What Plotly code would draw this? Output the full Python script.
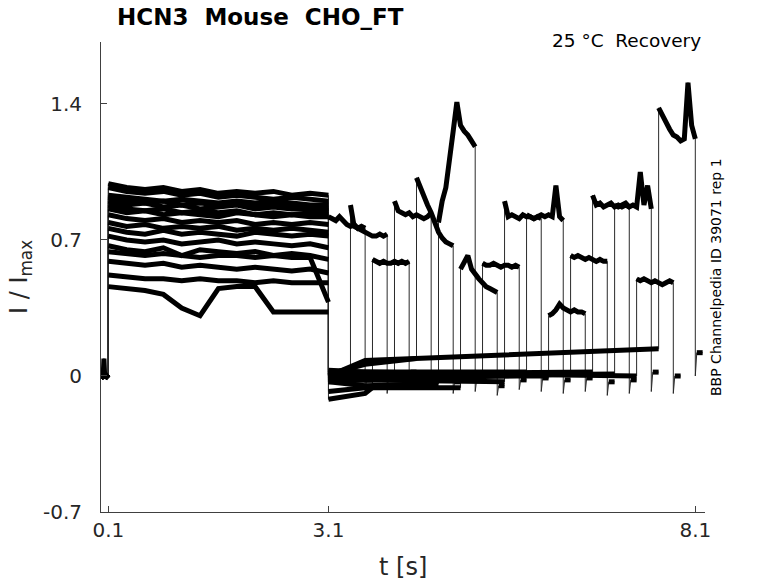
import plotly.graph_objects as go

# ---------------- data ----------------
N_SWEEPS = 16

# holding period before the first pulse
PRE_T = [0.0, 0.03, 0.04, 0.05, 0.1]
PRE_I_BASE = [-0.01, 0.0, -0.01, 0.01, -0.01]
PRE_I_SPIKE = [-0.01, 0.0, 0.09, 0.0, -0.01]
SPIKE_SWEEP = 0

# first (conditioning) pulse, 0.1 s -> 3.1 s
P1_T = [0.1, 0.35, 0.6, 0.85, 1.1, 1.35, 1.6, 1.85, 2.1, 2.35, 2.6, 2.85, 3.1]
P1_I = [
    [0.86, 0.84, 0.85, 0.83, 0.84, 0.83, 0.82, 0.84, 0.83, 0.82, 0.83, 0.82, 0.82],
    [0.90, 0.88, 0.89, 0.87, 0.88, 0.86, 0.87, 0.88, 0.86, 0.87, 0.86, 0.86, 0.85],
    [0.64, 0.63, 0.62, 0.63, 0.62, 0.61, 0.62, 0.62, 0.61, 0.62, 0.61, 0.61, 0.38],
    [0.76, 0.74, 0.73, 0.75, 0.73, 0.74, 0.73, 0.72, 0.74, 0.73, 0.72, 0.73, 0.72],
    [0.97, 0.95, 0.94, 0.95, 0.93, 0.94, 0.92, 0.93, 0.92, 0.91, 0.92, 0.91, 0.90],
    [0.93, 0.92, 0.91, 0.90, 0.91, 0.90, 0.89, 0.90, 0.89, 0.90, 0.89, 0.88, 0.88],
    [0.46, 0.45, 0.44, 0.42, 0.35, 0.31, 0.45, 0.46, 0.46, 0.33, 0.33, 0.33, 0.33],
    [0.52, 0.51, 0.50, 0.50, 0.49, 0.50, 0.49, 0.49, 0.48, 0.49, 0.48, 0.48, 0.48],
    [0.83, 0.81, 0.80, 0.81, 0.79, 0.80, 0.79, 0.80, 0.78, 0.79, 0.78, 0.79, 0.78],
    [0.79, 0.77, 0.78, 0.76, 0.77, 0.76, 0.77, 0.75, 0.76, 0.75, 0.76, 0.75, 0.74],
    [0.59, 0.58, 0.57, 0.58, 0.56, 0.57, 0.56, 0.55, 0.56, 0.55, 0.54, 0.55, 0.53],
    [0.72, 0.70, 0.69, 0.70, 0.68, 0.69, 0.70, 0.68, 0.69, 0.68, 0.67, 0.68, 0.66],
    [0.92, 0.90, 0.89, 0.90, 0.88, 0.89, 0.88, 0.89, 0.87, 0.88, 0.87, 0.86, 0.86],
    [0.88, 0.86, 0.85, 0.86, 0.84, 0.85, 0.84, 0.85, 0.83, 0.84, 0.83, 0.84, 0.83],
    [0.67, 0.65, 0.64, 0.66, 0.62, 0.65, 0.64, 0.63, 0.64, 0.62, 0.63, 0.62, 0.60],
    [0.99, 0.97, 0.96, 0.97, 0.95, 0.96, 0.94, 0.95, 0.94, 0.95, 0.93, 0.94, 0.93],
]

# recovery interval (between pulses)
IV_T_MID = 3.6
IV_START = [None, 0.00, -0.12, 0.02, 0.01, -0.03, -0.08, 0.01, -0.01, 0.03, 0.00, -0.03, 0.01, -0.02, 0.02, 0.00]
IV_MID = [None, 0.01, -0.09, 0.01, 0.06, -0.05, -0.06, 0.00, -0.02, 0.02, 0.00, -0.02, 0.01, 0.00, 0.02, 0.08]
IV_END = [None, 0.01, -0.06, 0.00, 0.09, -0.04, -0.06, -0.02, -0.03, 0.02, 0.00, 0.01, 0.02, 0.01, 0.00, 0.14]

# second (test) pulse
P2_START = [3.1, 3.4, 3.7, 4.0, 4.3, 4.6, 4.9, 5.2, 5.5, 5.8, 6.1, 6.4, 6.7, 7.0, 7.3, 7.6]
P2_DT = [0.0, 0.05, 0.1, 0.15, 0.2, 0.25, 0.3, 0.35, 0.4, 0.45, 0.5]
P2_I = [
    [0.82, 0.81, 0.80, 0.82, 0.80, 0.78, 0.77, 0.78, 0.76, 0.77, 0.76],
    [0.88, 0.77, 0.76, 0.75, 0.74, 0.73, 0.72, 0.72, 0.73, 0.72, 0.73],
    [0.60, 0.59, 0.58, 0.59, 0.58, 0.58, 0.59, 0.58, 0.59, 0.58, 0.59],
    [0.90, 0.85, 0.84, 0.83, 0.84, 0.82, 0.83, 0.82, 0.81, 0.82, 0.84],
    [1.02, 0.97, 0.92, 0.88, 0.84, 0.78, 0.74, 0.71, 0.69, 0.68, 0.67],
    [0.79, 0.90, 0.97, 1.10, 1.26, 1.41, 1.29, 1.26, 1.24, 1.21, 1.18],
    [0.55, 0.58, 0.62, 0.55, 0.52, 0.50, 0.48, 0.46, 0.45, 0.44, 0.43],
    [0.58, 0.57, 0.57, 0.58, 0.57, 0.56, 0.57, 0.57, 0.56, 0.57, 0.56],
    [0.90, 0.82, 0.83, 0.82, 0.81, 0.83, 0.82, 0.82, 0.81, 0.82, 0.81],
    [0.83, 0.82, 0.81, 0.82, 0.83, 0.82, 0.83, 0.82, 0.98, 0.82, 0.80],
    [0.31, 0.32, 0.34, 0.37, 0.35, 0.34, 0.33, 0.34, 0.33, 0.33, 0.32],
    [0.62, 0.61, 0.62, 0.61, 0.60, 0.61, 0.60, 0.59, 0.60, 0.59, 0.59],
    [0.93, 0.88, 0.89, 0.87, 0.88, 0.89, 0.87, 0.88, 0.87, 0.88, 0.87],
    [0.88, 0.87, 0.88, 0.89, 0.87, 0.88, 0.87, 1.05, 0.88, 0.98, 0.86],
    [0.50, 0.49, 0.50, 0.49, 0.48, 0.49, 0.48, 0.47, 0.48, 0.49, 0.48],
    [1.38, 1.34, 1.31, 1.27, 1.24, 1.23, 1.21, 1.22, 1.51, 1.29, 1.22],
]

# tail after the test pulse
TAIL_DT = [0.02, 0.1]
TAIL_LOW = [-0.08, -0.09, -0.06, -0.07, -0.09, -0.08, -0.10, -0.07, -0.08, -0.09, -0.08, -0.10, -0.09, -0.08, -0.09, 0.0]
TAIL_I = [-0.02, 0.01, 0.02, -0.01, -0.03, -0.02, -0.05, -0.02, -0.01, -0.02, -0.01, -0.03, -0.02, 0.02, 0.00, 0.12]

X_TICKS = [0.1, 3.1, 8.1]
X_TICK_TEXT = ["0.1", "3.1", "8.1"]
Y_TICKS = [-0.7, 0, 0.7, 1.4]
Y_TICK_TEXT = ["-0.7", "0", "0.7", "1.4"]

# ---------------- build traces ----------------
thin_x, thin_y = [], []
thick_x, thick_y = [], []


def add_piece(xs, ys):
    thick_x.extend(xs + [None])
    thick_y.extend(ys + [None])


for k in range(N_SWEEPS):
    xs, ys = [], []
    pre = PRE_I_SPIKE if k == SPIKE_SWEEP else PRE_I_BASE
    xs += PRE_T
    ys += pre
    add_piece(list(PRE_T), list(pre))
    xs += P1_T
    ys += P1_I[k]
    add_piece(list(P1_T), list(P1_I[k]))
    r = P2_START[k]
    if IV_START[k] is not None:
        ivx = [P1_T[-1]]
        ivy = [IV_START[k]]
        if r > IV_T_MID:
            ivx.append(IV_T_MID)
            ivy.append(IV_MID[k])
        ivx.append(r)
        ivy.append(IV_END[k])
        xs += ivx
        ys += ivy
        add_piece(ivx, ivy)
    p2x = [r + d for d in P2_DT]
    xs += p2x
    ys += P2_I[k]
    add_piece(p2x, list(P2_I[k]))
    end = p2x[-1]
    tx = [end, end + TAIL_DT[0], end + TAIL_DT[1]]
    ty = [TAIL_LOW[k], TAIL_I[k], TAIL_I[k]]
    xs += tx
    ys += ty
    add_piece(tx[1:], ty[1:])
    thin_x += xs + [None]
    thin_y += ys + [None]

fig = go.Figure()
fig.add_trace(go.Scatter(x=thin_x, y=thin_y, mode="lines",
                         line=dict(color="#2a2a2a", width=1), hoverinfo="skip",
                         showlegend=False))
fig.add_trace(go.Scatter(x=thick_x, y=thick_y, mode="lines",
                         line=dict(color="black", width=5), hoverinfo="skip",
                         showlegend=False))

FONT = "DejaVu Sans"
W, H = 778, 583
L, R, T, B = 101, 73, 42, 71
PW, PH = W - L - R, H - T - B


def px(x):
    return (x - L) / PW


def py(y):
    return (H - B - y) / PH


fig.update_layout(
    width=W, height=H,
    margin=dict(l=L, r=R, t=T, b=B),
    paper_bgcolor="white", plot_bgcolor="white",
    font=dict(family=FONT, color="#262626"),
    showlegend=False,
    xaxis=dict(range=[0, 8.232], tickvals=X_TICKS, ticktext=X_TICK_TEXT,
               ticks="inside", ticklen=6, tickcolor="#404040",
               showline=True, linecolor="#404040", linewidth=1,
               showgrid=False, zeroline=False,
               tickfont=dict(size=20, family=FONT, color="#262626")),
    yaxis=dict(range=[-0.7, 1.719], tickvals=Y_TICKS, ticktext=Y_TICK_TEXT,
               ticks="inside", ticklen=6, tickcolor="#404040",
               showline=True, linecolor="#404040", linewidth=1,
               showgrid=False, zeroline=False, ticklabelstandoff=14,
               tickfont=dict(size=20, family=FONT, color="#262626")),
    annotations=[
        dict(text="<b>HCN3\u00a0\u00a0Mouse\u00a0\u00a0CHO_FT</b>", x=px(115), y=py(17),
             xref="paper", yref="paper", xanchor="left", yanchor="middle",
             showarrow=False, font=dict(size=23, family=FONT, color="black")),
        dict(text="25 °C\u00a0\u00a0Recovery", x=px(703), y=py(41),
             xref="paper", yref="paper", xanchor="right", yanchor="middle",
             showarrow=False, font=dict(size=18.5, family=FONT, color="black")),
        dict(text="BBP Channelpedia ID 39071 rep 1", x=px(716), y=py(277),
             xref="paper", yref="paper", xanchor="center", yanchor="middle",
             textangle=-90, showarrow=False,
             font=dict(size=14, family=FONT, color="black")),
        dict(text="I / I<sub>max</sub>", x=px(20), y=py(277),
             xref="paper", yref="paper", xanchor="center", yanchor="middle",
             textangle=-90, showarrow=False,
             font=dict(size=24, family=FONT, color="#262626")),
        dict(text="t [s]", x=px(403), y=py(567),
             xref="paper", yref="paper", xanchor="center", yanchor="middle",
             showarrow=False, font=dict(size=24, family=FONT, color="#262626")),
    ],
)

fig.write_html("out.html", config={"displayModeBar": False},
               post_script="document.body.style.margin='0px';")
